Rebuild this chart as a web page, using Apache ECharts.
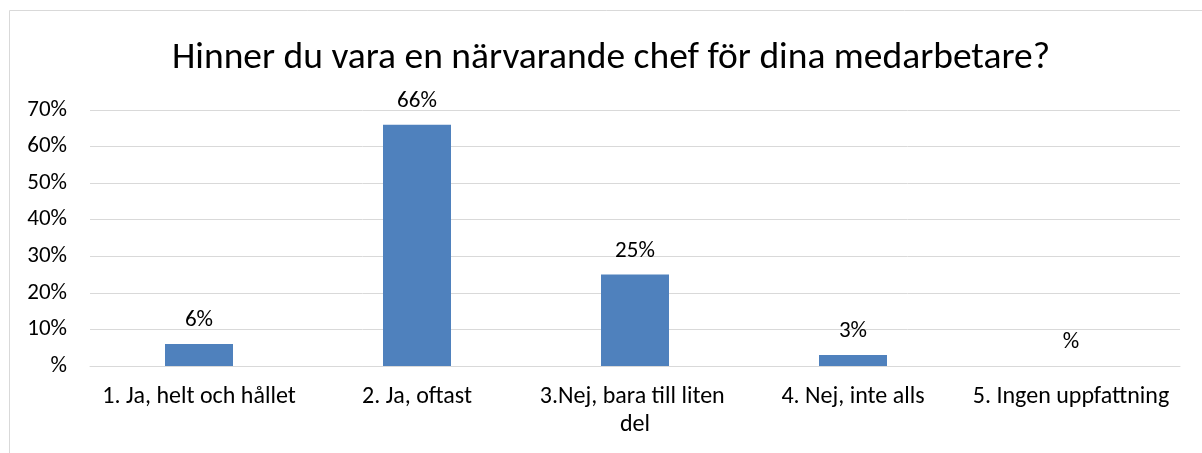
<!DOCTYPE html>
<html>
<head>
    <meta charset="utf-8">
    <title>Hinner du vara en närvarande chef</title>
    <script src="https://cdn.jsdelivr.net/npm/echarts@6/dist/echarts.min.js"></script>
</head>
<body style="margin:0;background:#fff;">
<div id="main" style="width:1202px;height:453px;"></div>
<script type="text/javascript">
    // data
    var categories = ['1. Ja, helt och hållet', '2. Ja, oftast', '3.Nej, bara till liten del', '4. Nej, inte alls', '5. Ingen uppfattning'];
    var values = [6, 66, 25, 3, 0];
    var yTicks = [0, 10, 20, 30, 40, 50, 60, 70];

    var pct = function (v) {
        return v === 0 ? '%' : v + '%';
    };

    var chart = echarts.init(document.getElementById('main'));
    var font = 'Carlito, Lato, "Open Sans", sans-serif';

    var option = {
        animation: false,
        textStyle: { fontFamily: font },
        title: {
            text: 'Hinner du vara en närvarande chef för dina medarbetare?',
            left: 606,
            textAlign: 'center',
            top: 35,
            textStyle: { fontSize: 37.5, fontWeight: 'normal', color: '#000', fontFamily: font }
        },
        graphic: [{
            type: 'rect',
            shape: { x: 9.5, y: 10.5, width: 1300, height: 600 },
            style: { fill: 'none', stroke: '#d9d9d9', lineWidth: 1 },
            silent: true
        }],
        grid: { left: 90, right: 22, top: 110, bottom: 87 },
        xAxis: {
            type: 'category',
            data: categories,
            axisLine: { show: true, lineStyle: { color: '#d9d9d9', width: 1 } },
            axisTick: { show: false },
            axisLabel: {
                color: '#000', fontSize: 24, margin: 17, lineHeight: 28,
                width: 212, overflow: 'break', interval: 0
            }
        },
        yAxis: {
            type: 'value',
            min: yTicks[0],
            max: yTicks[yTicks.length - 1],
            interval: 10,
            axisLine: { show: false },
            axisTick: { show: false },
            splitLine: { lineStyle: { color: '#d9d9d9', width: 1 } },
            axisLabel: { color: '#000', fontSize: 23, margin: 23, formatter: pct }
        },
        series: [{
            type: 'bar',
            data: values,
            barWidth: 68,
            itemStyle: { color: '#4f81bd' },
            label: {
                show: true,
                position: 'top',
                distance: 12,
                color: '#000',
                fontSize: 23,
                formatter: function (p) { return pct(p.value); }
            }
        }]
    };
    chart.setOption(option);
</script>
</body>
</html>
